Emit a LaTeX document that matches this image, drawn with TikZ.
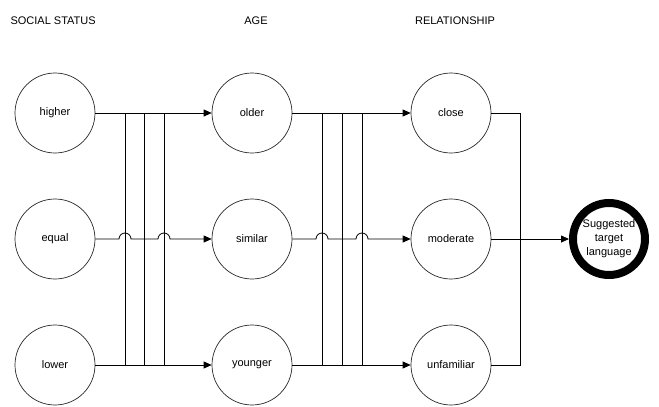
\documentclass[tikz,border=0pt]{standalone}
\usepackage{fontspec}
\setmainfont{Liberation Sans}
\usetikzlibrary{arrows.meta, positioning, calc}

\begin{document}
\begin{tikzpicture}[x=1pt, y=-1pt, font=\fontsize{11}{14}\selectfont,
    state/.style={circle, draw=black!85, line width=0.7pt, minimum size=80pt, inner sep=0pt},
    link/.style={line width=0.8pt},
    arr/.style={link, -{Triangle[length=8pt,width=7pt]}}]
    \useasboundingbox (0,0) rectangle (659,407);

    % ---------------- HEADINGS ----------------
    \node[anchor=west] (hsoc) at (7,21) {SOCIAL STATUS};
    \node (hage) at (256,21) {AGE};
    \node (hrel) at (455,21) {RELATIONSHIP};

    % ---------------- CIRCLES ----------------
    \node[state] (higher) at (55,113) {higher};
    \node[state] (equal)  at (55,239) {equal};
    \node[state] (lower)  at (55,365) {lower};

    \node[state] (older)   at (252,113) {older};
    \node[state] (similar) at (252,239) {similar};
    \node[state] (younger) at (252,365) {younger};

    \node[state] (close)      at (451,113) {close};
    \node[state] (moderate)   at (451,239) {moderate};
    \node[state] (unfamiliar) at (451,365) {unfamiliar};

    \node[state, draw=black, line width=8pt, minimum size=72pt, align=center] (target) at (609,239) {Suggested\\target\\language};

    % bus positions
    \coordinate (b1) at (125,0); \coordinate (b2) at (144,0); \coordinate (b3) at (164,0);
    \coordinate (c1) at (322,0); \coordinate (c2) at (342,0); \coordinate (c3) at (362,0);
    \coordinate (d) at (520,0);

    % ---------------- STATUS -> AGE ----------------
    \draw[arr] (higher) -- (older);
    \draw[arr] (lower) -- (younger);
    \draw[arr] (equal) -- ($(b1 |- equal)+(-6,0)$) arc[start angle=180, end angle=360, radius=6]
        -- ($(b3 |- equal)+(-6,0)$) arc[start angle=180, end angle=360, radius=6] -- (similar);
    \foreach \b in {b1,b2,b3}
        \draw[link] (\b |- higher) -- (\b |- lower);

    % ---------------- AGE -> RELATIONSHIP ----------------
    \draw[arr] (older) -- (close);
    \draw[arr] (younger) -- (unfamiliar);
    \draw[arr] (similar) -- ($(c1 |- similar)+(-6,0)$) arc[start angle=180, end angle=360, radius=6]
        -- ($(c3 |- similar)+(-6,0)$) arc[start angle=180, end angle=360, radius=6] -- (moderate);
    \foreach \c in {c1,c2,c3}
        \draw[link] (\c |- older) -- (\c |- younger);

    % ---------------- RELATIONSHIP -> TARGET ----------------
    \draw[link] (close) -- (d |- close) -- (d |- unfamiliar) -- (unfamiliar);
    \draw[arr] (moderate) -- (target);
\end{tikzpicture}
\end{document}
